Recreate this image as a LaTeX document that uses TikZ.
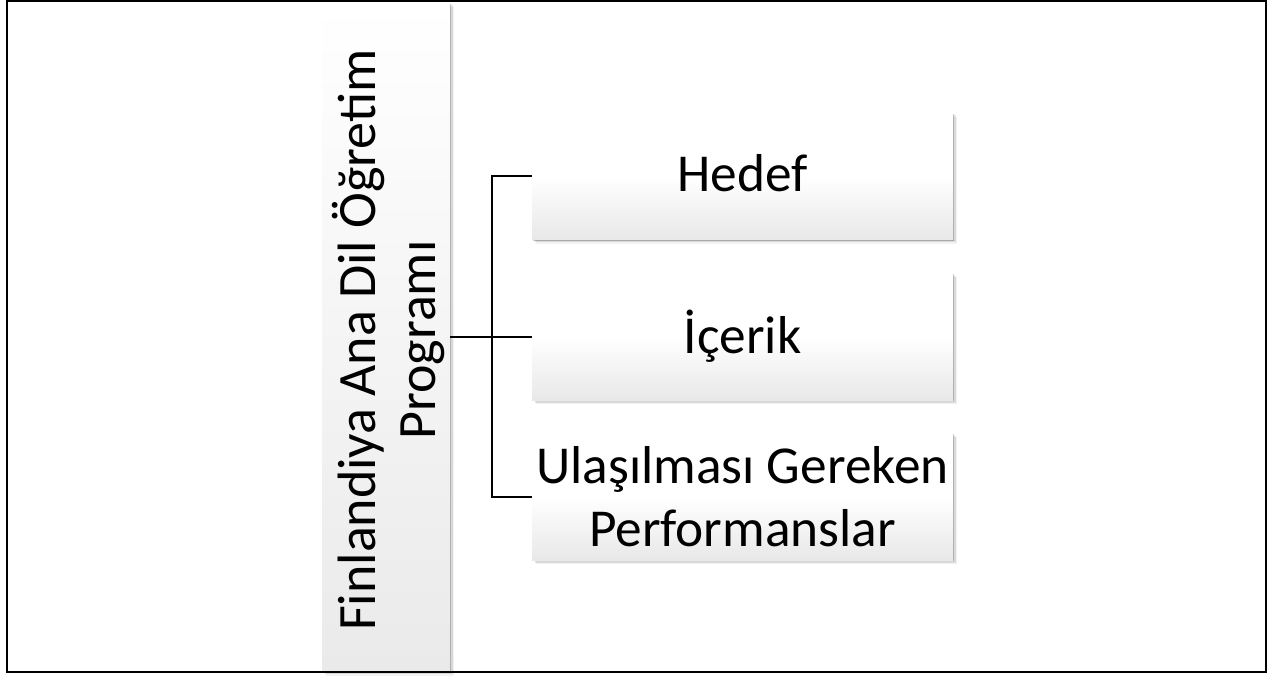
\documentclass[tikz,border=0pt]{standalone}
\usepackage{fontspec}
\setmainfont{Carlito}
\usetikzlibrary{shadows}
\definecolor{boxgray}{RGB}{232,232,232}
\definecolor{bargray}{RGB}{234,234,234}
\tikzset{
  x=0.75pt, y=0.75pt,
  softshadow/.style={
    drop shadow={shadow xshift=0.8pt, shadow yshift=-0.8pt, opacity=.22, fill=black},
    drop shadow={shadow xshift=2pt, shadow yshift=-2pt, opacity=.10, fill=black},
    drop shadow={shadow xshift=3.2pt, shadow yshift=-3.2pt, opacity=.05, fill=black}},
  itembox/.style={rectangle, inner sep=0pt, minimum width=315.75pt, minimum height=95.25pt,
    top color=white, bottom color=boxgray, middle color=white, softshadow,
    font=\fontsize{40pt}{47pt}\selectfont, align=center, text=black},
  barbox/.style={rectangle, inner sep=0pt, minimum width=96pt, minimum height=501.75pt,
    top color=white, bottom color=bargray, softshadow},
  bartext/.style={rotate=90, font=\fontsize{40.5pt}{45pt}\selectfont, align=center, text=black, inner sep=0pt},
  conn/.style={line width=1.5pt, black},
  frame/.style={line width=1.6pt, black}
}
\begin{document}
\begin{tikzpicture}
\useasboundingbox (0,0) rectangle (1267,-675);
\fill[white] (0,0) rectangle (1267,-675);
% bar
\node[barbox] (p) at (386,-337) {};
\node[bartext] (ptext) at (388,-340) {Finlandiya Ana Dil Öğretim\\Programı};
% item boxes
\node[itembox] (h) at (742.5,-176) {\raisebox{4pt}{Hedef}};
\node[itembox] (i) at (742.5,-336.5) {\raisebox{3pt}{İçerik}};
\node[itembox] (u) at (742.5,-496.5) {Ulaşılması Gereken\\Performanslar};
% connectors
\coordinate (j) at (492,-337);
\draw[conn] (p.east |- j) -- (j);
\draw[conn] (h.west) -- (j |- h.west) -- (j |- u.west) -- (u.west);
\draw[conn] (j |- i.west) -- (i.west);
% frame
\draw[frame] (7,-1) rectangle (1266,-672);
\end{tikzpicture}
\end{document}
